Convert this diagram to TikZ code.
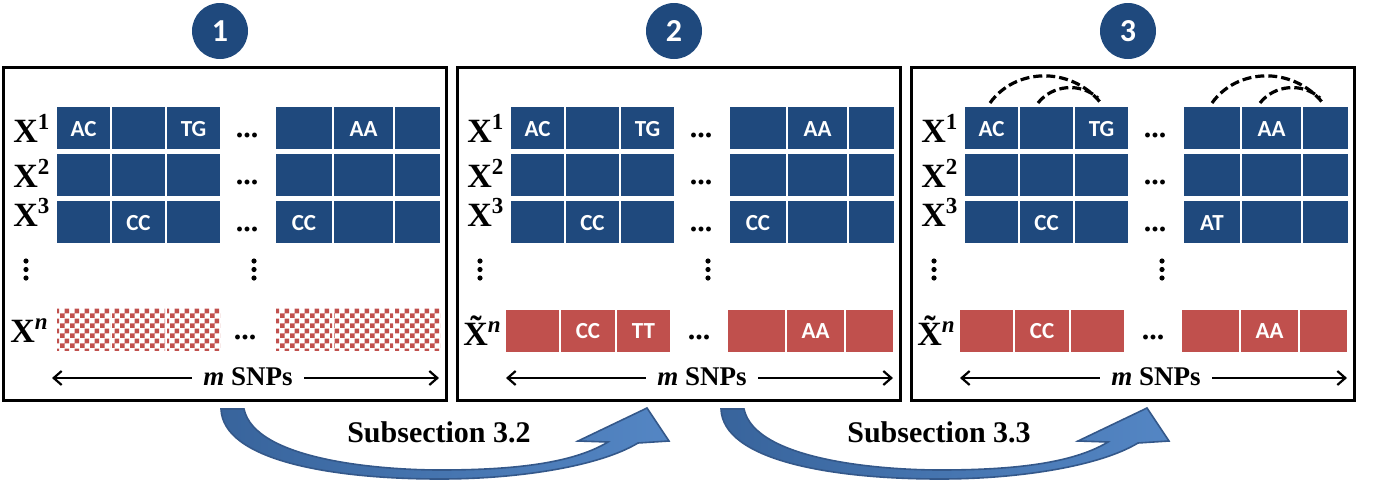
\documentclass[tikz,border=0pt]{standalone}
\usepackage{fontspec}
\setmainfont{Liberation Serif}
\newfontfamily\cellfont{Carlito}
\usetikzlibrary{arrows.meta,patterns}

\definecolor{snp blue}{RGB}{31,73,125}
\definecolor{snp red}{RGB}{192,80,77}
\definecolor{arrow light}{RGB}{84,134,196}
\definecolor{arrow dark}{RGB}{56,100,156}
\definecolor{arrow edge}{RGB}{52,88,138}

\pgfdeclarepatternformonly{snpcheck}{\pgfqpoint{0pt}{0pt}}{\pgfqpoint{5pt}{5pt}}{\pgfqpoint{5pt}{5pt}}{%
  \pgfpathrectangle{\pgfqpoint{0pt}{0pt}}{\pgfqpoint{2.5pt}{2.5pt}}%
  \pgfpathrectangle{\pgfqpoint{2.5pt}{2.5pt}}{\pgfqpoint{2.5pt}{2.5pt}}%
  \pgfusepath{fill}}

\newcommand\xsup[1]{\raisebox{6.5pt}{\fontsize{11.5}{11.5}\selectfont\bfseries #1}}

\begin{document}
\begin{tikzpicture}[x=0.5pt,y=-0.5pt,
  panel/.style={draw=black, line width=1.5pt},
  bluecell/.style={fill=snp blue},
  redcell/.style={fill=snp red},
  checkcell/.style={pattern=snpcheck, pattern color=snp red},
  snp/.style={text=white, inner sep=0pt, font=\cellfont\bfseries\fontsize{11.5}{12}\selectfont},
  rowlab/.style={anchor=base west, inner sep=0pt, font=\bfseries\fontsize{17}{17}\selectfont},
  hdots/.style={anchor=base, inner sep=0pt, font=\bfseries\fontsize{15}{15}\selectfont},
  stepnum/.style={circle, fill=snp blue, minimum size=28pt, inner sep=0pt, text=white, font=\cellfont\bfseries\fontsize{16}{16}\selectfont},
  snplab/.style={anchor=base, inner xsep=5.5pt, inner ysep=0pt, font=\bfseries\fontsize{13.5}{14}\selectfont},
  snparrow/.style={-{Straight Barb[length=4pt,width=7pt]}, line width=1.1pt},
  subsec/.style={font=\bfseries\fontsize{15}{15}\selectfont},
  link/.style={line width=1.6pt, dash pattern=on 4.5pt off 2pt}]
\useasboundingbox (0,0) rectangle (1378,488);
\def\lcols{54/107,109/162,164/217,273/329,331/390,392/437}
\def\rcols{49/102,104/158,160/213,271/328,330/387,389/436}
\def\bendarrow{(221,409) -- (244,409) .. controls (255,460) and (380,470) .. (440,470)
  .. controls (520,470) and (575,462) .. (608,442) -- (578,441) -- (647,408) -- (669,441) -- (638,443)
  .. controls (600,466) and (520,479) .. (440,479) .. controls (330,479) and (223,460) .. (221,409) -- cycle}

\foreach \k/\L in {1/3,2/457,3/911}{
  \draw[panel] (\L,67) rectangle (\L+443,400);
  \node[stepnum] (num\k) at (\L+217,31) {\k};
  % genotype rows
  \foreach \ytop/\ybot in {107/149,154/196,201/243}
    \foreach \a/\e in \lcols
      \fill[bluecell] (\L+\a,\ytop) rectangle (\L+\e,\ybot);
  \ifnum\k=1
    \foreach \a/\e in \lcols
      \fill[checkcell] (\L+\a,308) rectangle (\L+\e,350);
  \else
    \foreach \a/\e in \rcols
      \fill[redcell] (\L+\a,310) rectangle (\L+\e,352);
  \fi
  \node[snp] (ac\k) at (\L+80.5,129) {AC};
  \node[snp] (tg\k) at (\L+190.5,129) {TG};
  \node[snp] (aa\k) at (\L+360.5,129) {AA};
  \node[snp] (cc\k) at (\L+135.5,223) {CC};
  % row labels and dots
  \node[rowlab] (xa\k) at (\L+10,142) {X\xsup{1}};
  \node[rowlab] (xb\k) at (\L+10,187) {X\xsup{2}};
  \node[rowlab] (xc\k) at (\L+10,226) {X\xsup{3}};
  \foreach \yd/\r in {137/a,184/b,231/c}
    \node[hdots] (dots\r\k) at (\L+244,\yd) {...};
  \node[hdots] (dotsn\k) at (\L+242,339) {...};
  \foreach \vx in {23,251}
    \foreach \vy in {261,269.5,278}
      \fill (\L+\vx,\vy) circle (2.6);
  % m SNPs
  \node[snplab] (snps\k) at (\L+245,385) {\textit{m} SNPs};
  \coordinate (snpl\k) at (\L+49,378);
  \coordinate (snpr\k) at (\L+436,378);
  \draw[snparrow] (snps\k.west |- snpl\k) -- (snpl\k);
  \draw[snparrow] (snps\k.east |- snpr\k) -- (snpr\k);
}

% panel specific cells
\node[snp] (cc1b) at (304,223) {CC};
\node[snp] (cc2b) at (758,223) {CC};
\node[snp] (at3) at (1212,223) {AT};
\node[snp] (cc2n) at (588,331) {CC};
\node[snp] (tt2n) at (643.5,331) {TT};
\node[snp] (aa2n) at (815.5,331) {AA};
\node[snp] (cc3n) at (1042,331) {CC};
\node[snp] (aa3n) at (1269.5,331) {AA};
\node[rowlab] (xn1) at (10,342) {X\xsup{\itshape n}};
\node[rowlab] (xn2) at (463,345) {\~{X}\xsup{\itshape n}};
\node[rowlab] (xn3) at (917,345) {\~{X}\xsup{\itshape n}};

% links in panel 3
\foreach \s in {0,222}{
  \begin{scope}[shift={(\s,0)}]
    \draw[link] (990,103) .. controls (1015,68) and (1070,66) .. (1100,102);
    \draw[link] (1038,103) .. controls (1052,85) and (1080,82) .. (1098,98);
  \end{scope}
}

% steps
\shade[left color=arrow dark, right color=arrow light, draw=arrow edge, line width=0.8pt] \bendarrow;
\begin{scope}[shift={(500,0)}]
  \shade[left color=arrow dark, right color=arrow light, draw=arrow edge, line width=0.8pt] \bendarrow;
\end{scope}
\node[subsec] (sub1) at (439,432) {Subsection 3.2};
\node[subsec] (sub2) at (939,432) {Subsection 3.3};
\end{tikzpicture}
\end{document}
